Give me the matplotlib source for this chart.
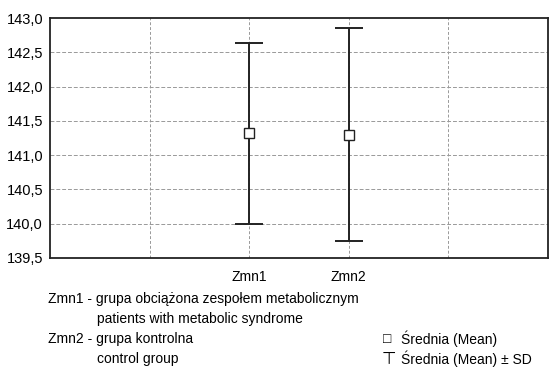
import matplotlib.pyplot as plt
import numpy as np

plt.rcParams['font.family'] = ['Liberation Sans', 'DejaVu Sans']

# data
groups = ['Zmn1', 'Zmn2']
pos = [2, 3]
means = [141.32, 141.30]
sds = [1.32, 1.56]
yticks = np.arange(139.5, 143.01, 0.5)
xgrid = [1, 2, 3, 4]

fig = plt.figure(figsize=(5.5, 3.7), dpi=100)
ax = fig.add_axes([0.091, 0.303, 0.905, 0.648])

for x in xgrid:
    ax.axvline(x, color='#999999', lw=0.7, ls=(0, (3, 2)), zorder=0)
for y in yticks[1:-1]:
    ax.axhline(y, color='#999999', lw=0.7, ls=(0, (4, 2)), zorder=0)

ax.errorbar(pos, means, yerr=sds, fmt='none', ecolor='#222222',
            elinewidth=1.4, capsize=10, capthick=1.4, zorder=2)
ax.plot(pos, means, ls='none', marker='s', ms=7, mfc='white',
        mec='#222222', mew=1.0, zorder=3)

ax.set_xlim(0, 5)
ax.set_ylim(139.5, 143.0)
ax.set_yticks(yticks)
ax.set_yticklabels([('%.1f' % v).replace('.', ',') for v in yticks], fontsize=10.5)
ax.set_xticks(pos)
ax.set_xticklabels(groups, fontsize=10)
ax.tick_params(axis='y', length=0, pad=5)
ax.tick_params(axis='x', length=0, pad=9)
for s in ax.spines.values():
    s.set_linewidth(1.3)
    s.set_color('#222222')

fs = 10
fig.text(48/550, 1-299/370, 'Zmn1 - grupa obciążona zespołem metabolicznym', fontsize=fs, va='center')
fig.text(97/550, 1-319/370, 'patients with metabolic syndrome', fontsize=fs, va='center')
fig.text(48/550, 1-339/370, 'Zmn2 - grupa kontrolna', fontsize=fs, va='center')
fig.text(97/550, 1-359/370, 'control group', fontsize=fs, va='center')

fig.text(383/550, 1-339/370, '\u25a1', fontsize=fs, va='center')
fig.text(382/550, 1-359/370, '\u22a4', fontsize=12, va='center')
fig.text(401/550, 1-339/370, 'Średnia (Mean)', fontsize=fs, va='center')
fig.text(401/550, 1-359/370, 'Średnia (Mean) ± SD', fontsize=fs, va='center')

fig.savefig('out.png', dpi=100)
